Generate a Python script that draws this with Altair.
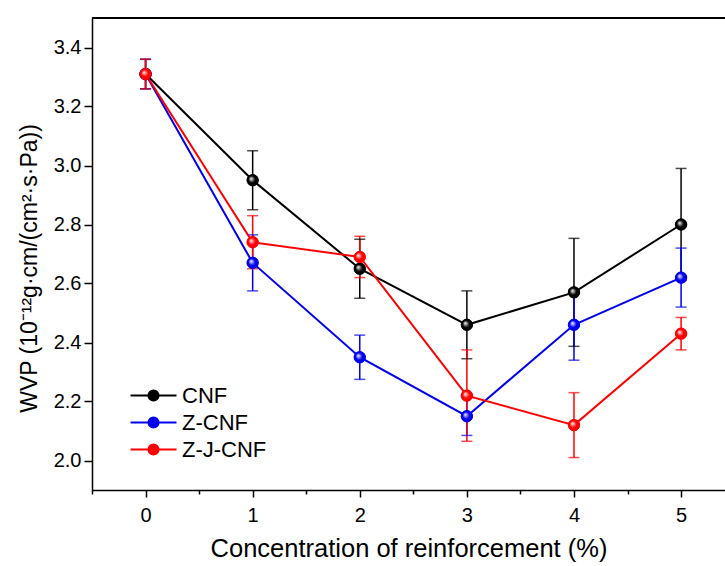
import altair as alt
import pandas as pd

conc = [0, 1, 2, 3, 4, 5]
series_names = ["CNF", "Z-CNF", "Z-J-CNF"]
cnf = [3.31, 2.95, 2.65, 2.46, 2.57, 2.80]
cnf_err = [0.05, 0.10, 0.10, 0.115, 0.183, 0.19]
zcnf = [3.31, 2.67, 2.35, 2.15, 2.46, 2.62]
zcnf_err = [0.05, 0.095, 0.075, 0.065, 0.12, 0.10]
zjcnf = [3.31, 2.74, 2.69, 2.22, 2.12, 2.43]
zjcnf_err = [0.05, 0.09, 0.07, 0.155, 0.11, 0.055]
colors = ["#000000", "#0000ee", "#ff0000"]

y_ticks = [2.0, 2.1, 2.2, 2.3, 2.4, 2.5, 2.6, 2.7, 2.8, 2.9, 3.0, 3.1, 3.2, 3.3, 3.4]
x_ticks = [-0.5, 0, 0.5, 1, 1.5, 2, 2.5, 3, 3.5, 4, 4.5, 5]

rows = []
for name, vals, errs in [("CNF", cnf, cnf_err), ("Z-CNF", zcnf, zcnf_err), ("Z-J-CNF", zjcnf, zjcnf_err)]:
    for c, v, e in zip(conc, vals, errs):
        rows.append({"conc": c, "wvp": v, "lo": v - e, "hi": v + e, "series": name})
df = pd.DataFrame(rows)

W, H = 633, 472
FONT = "Liberation Sans"

xs = alt.Scale(domain=[-0.5, 5.41], nice=False, zero=False)
ys = alt.Scale(domain=[1.9, 3.5], nice=False, zero=False)
col = alt.Color("series:N", scale=alt.Scale(domain=series_names, range=colors),
                sort=series_names,
                legend=alt.Legend(
                    title=None, orient="none", legendX=49, legendY=365,
                    symbolType="M-2,0H2M0.44,0A0.44,0.44,0,1,1,-0.44,0A0.44,0.44,0,1,1,0.44,0Z",
                    symbolSize=529, symbolStrokeWidth=2, symbolOpacity=1,
                    labelFont=FONT, labelFontSize=22,
                    labelColor="black", labelOffset=16, rowPadding=3, padding=0))

xaxis = alt.Axis(values=x_ticks, title="Concentration of reinforcement (%)",
                 labelExpr="datum.value % 1 == 0 ? format(datum.value, 'd') : ''",
                 tickSize={"condition": {"test": "datum.value % 1 == 0", "value": 7}, "value": 4},
                 grid=False, domainColor="black", domainWidth=1.5, tickColor="black", tickWidth=1.5,
                 labelFont=FONT, labelFontSize=20, labelColor="black", labelPadding=8,
                 titleFont=FONT, titleFontSize=25.5, titleFontWeight="normal", titleColor="black",
                 titleY=58, titleBaseline="middle")
yaxis = alt.Axis(values=y_ticks, title="WVP (10⁻¹²g·cm/(cm²·s·Pa))",
                 labelExpr="round(datum.value*10) % 2 == 0 ? format(datum.value, '.1f') : ''",
                 tickSize={"condition": {"test": "round(datum.value*10) % 2 == 0", "value": 8}, "value": 4},
                 grid=False, domainColor="black", domainWidth=1.5, tickColor="black", tickWidth=1.5,
                 labelFont=FONT, labelFontSize=20, labelColor="black", labelPadding=3,
                 titleFont=FONT, titleFontSize=23, titleFontWeight="normal", titleColor="black",
                 titleX=-63, titleY=250, titleAngle=-90, titleAlign="center", titleBaseline="middle")

base = alt.Chart(df)

top_rule = base.mark_rule(color="black", strokeWidth=2).encode(
    x=alt.value(0), x2=alt.value(W), y=alt.value(0))

err = base.mark_rule(strokeWidth=1.5).encode(
    x=alt.X("conc:Q", scale=xs, axis=xaxis),
    y=alt.Y("lo:Q", scale=ys, axis=yaxis),
    y2="hi:Q",
    color=col)
cap_lo = base.mark_tick(orient="horizontal", size=11, thickness=1.5).encode(
    x=alt.X("conc:Q", scale=xs), y=alt.Y("lo:Q", scale=ys), color=col)
cap_hi = base.mark_tick(orient="horizontal", size=11, thickness=1.5).encode(
    x=alt.X("conc:Q", scale=xs), y=alt.Y("hi:Q", scale=ys), color=col)

line = base.mark_line(strokeWidth=2).encode(
    x=alt.X("conc:Q", scale=xs), y=alt.Y("wvp:Q", scale=ys), color=col,
    order="conc:Q")
pts = base.mark_point(filled=True, size=130, opacity=1).encode(
    x=alt.X("conc:Q", scale=xs), y=alt.Y("wvp:Q", scale=ys), color=col)

shaded = []
for name, c in zip(series_names, colors):
    grad = alt.Gradient(gradient="radial", x1=0.35, y1=0.35, r1=0, x2=0.5, y2=0.5, r2=0.55,
                        stops=[alt.GradientStop(color="#ffffff", offset=0),
                               alt.GradientStop(color=c, offset=0.55),
                               alt.GradientStop(color=c, offset=1)])
    shaded.append(base.transform_filter(alt.datum.series == name).mark_circle(
        size=130, opacity=1, fill=grad, stroke=c, strokeWidth=1).encode(
        x=alt.X("conc:Q", scale=xs), y=alt.Y("wvp:Q", scale=ys)))

chart = alt.layer(err, cap_lo, cap_hi, line, pts, *shaded, top_rule).properties(
    width=W, height=H,
    autosize=alt.AutoSizeParams(type="none"),
    padding={"left": 92, "top": 18, "right": 0, "bottom": 76},
).configure_view(stroke=None).configure(background="white")

chart.save("out.html", embed_options={"renderer": "svg", "actions": False})
